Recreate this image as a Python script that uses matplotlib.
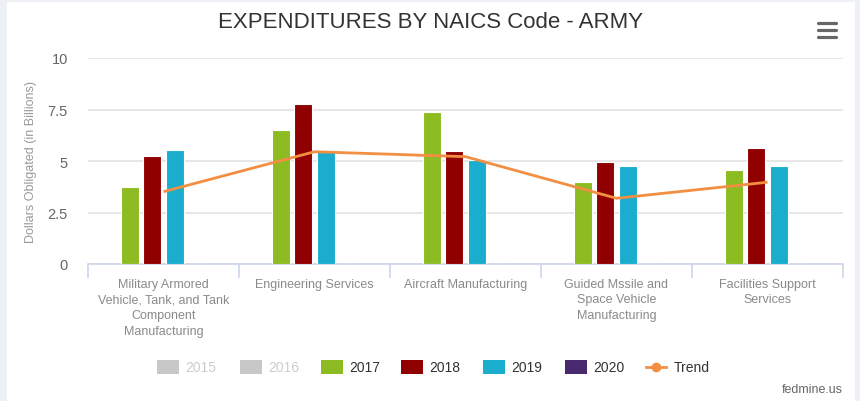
import matplotlib
matplotlib.use("Agg")
import matplotlib.pyplot as plt
from matplotlib.patches import Rectangle
from matplotlib.lines import Line2D
import numpy as np

plt.rcParams['font.family'] = ['Liberation Sans', 'DejaVu Sans']

title = "EXPENDITURES BY NAICS Code - ARMY"
categories = ["Military Armored\nVehicle, Tank, and Tank\nComponent\nManufacturing",
              "Engineering Services",
              "Aircraft Manufacturing",
              "Guided Mssile and\nSpace Vehicle\nManufacturing",
              "Facilities Support\nServices"]
series_names = ["2015", "2016", "2017", "2018", "2019", "2020"]
hidden = [True, True, False, False, False, False]
v2017 = [3.74, 6.50, 7.36, 4.00, 4.58]
v2018 = [5.23, 7.75, 5.48, 4.97, 5.62]
v2019 = [5.53, 5.53, 5.05, 4.77, 4.77]
v2020 = [0, 0, 0, 0, 0]
trend = [3.51, 5.45, 5.21, 3.19, 3.97]
yticks = [0, 2.5, 5, 7.5, 10]
ytick_labels = ["0", "2.5", "5", "7.5", "10"]
colors = {"2015": "#c8c8c8", "2016": "#c8c8c8", "2017": "#8cbb22", "2018": "#900000",
          "2019": "#1aadce", "2020": "#492970"}
trend_color = "#f28f43"

W, H = 860, 402
fig = plt.figure(figsize=(W/100, H/100), dpi=100, facecolor="#edf1f6")
# white card
fig.patches.append(Rectangle((7/W, 0), (855-7)/W, (H-3)/H, transform=fig.transFigure,
                             facecolor="white", edgecolor="none", zorder=-5))

ax = fig.add_axes([88/W, 1-265/H, (843-88)/W, (265-59)/H])
ax.set_zorder(2)
ax.set_facecolor("none")
ax.set_xlim(-0.5, 4.5)
ax.set_ylim(0, 10)

x = np.arange(len(categories))
slot = 0.149
bw = 0.118
vis_series = [("2017", v2017), ("2018", v2018), ("2019", v2019), ("2020", v2020)]
for i, (name, vals) in enumerate(vis_series):
    off = (i - 1.5) * slot
    ax.bar(x + off, vals, width=bw, color=colors[name], edgecolor="white", linewidth=0.8, zorder=3)

ax.plot(x, trend, color=trend_color, linewidth=2.0, zorder=4, solid_capstyle="butt")

ax.set_yticks(yticks)
ax.set_yticklabels(ytick_labels, fontsize=10.5, color="#666666")
ax.yaxis.grid(True, color="#e3e3e3", linewidth=1.2, zorder=0)
ax.tick_params(axis="y", length=0, pad=14.4)
ax.set_ylabel("Dollars Obligated (in Billions)", fontsize=9, color="#999999")
ax.yaxis.set_label_coords((37-88)/755, 0.5)

ax.set_xticks(x)
ax.set_xticklabels(categories, fontsize=9, color="#8a8a8a", linespacing=1.4, va="top")
ax.tick_params(axis="x", length=0, pad=10)
ax.set_xticks(np.arange(-0.5, 5, 1), minor=True)
ax.tick_params(axis="x", which="minor", length=10, color="#ccd6eb", width=1.2)

for s in ["top", "right", "left"]:
    ax.spines[s].set_visible(False)
ax.spines["bottom"].set_color("#ccd6eb")
ax.spines["bottom"].set_linewidth(1.2)
ax.set_axisbelow(True)

fig.text(431/W, 1-23/H, title, ha="center", va="center", fontsize=16, color="#333333")

# hamburger menu
for yy in [24, 31, 38]:
    fig.add_artist(Line2D([818/W, 836/W], [1-yy/H, 1-yy/H], color="#666666", linewidth=2.3,
                          solid_capstyle="round", transform=fig.transFigure))

# legend
leg_x = [157, 240, 321, 401, 483, 565]
ly = 368
for name, hid, lx in zip(series_names, hidden, leg_x):
    fig.patches.append(Rectangle((lx/W, 1-(ly+7)/H), 22/W, 14/H, transform=fig.transFigure,
                                 facecolor=colors[name], edgecolor="none"))
    fig.text((lx+28)/W, 1-ly/H, name, ha="left", va="center", fontsize=10,
             color="#cccccc" if hid else "#333333")
tx = 646
fig.add_artist(Line2D([tx/W, (tx+20)/W], [1-ly/H, 1-ly/H], color=trend_color, linewidth=2.0,
                      transform=fig.transFigure))
fig.add_artist(Line2D([(tx+10)/W], [1-ly/H], color=trend_color, marker="o", markersize=6,
                      linestyle="none", transform=fig.transFigure))
fig.text((tx+28)/W, 1-ly/H, "Trend", ha="left", va="center", fontsize=10, color="#333333")

fig.text(843/W, 1-390/H, "fedmine.us", ha="right", va="center", fontsize=9, color="#666666")

fig.savefig("out.png", dpi=100, facecolor=fig.get_facecolor())
